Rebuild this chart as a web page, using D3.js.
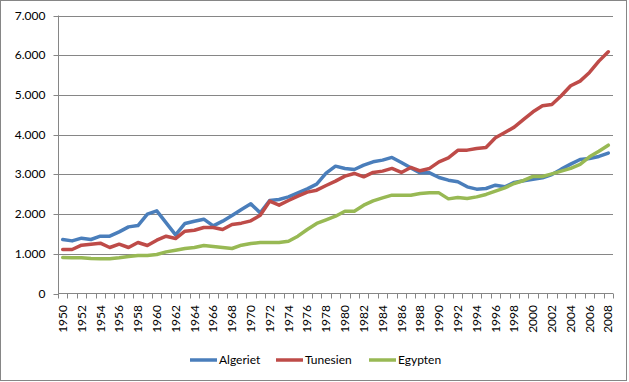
<!DOCTYPE html>
<html><head><meta charset="utf-8">
<script src="https://cdn.jsdelivr.net/npm/d3@7"></script>
<style>
html,body{margin:0;padding:0;background:#fff;}
svg{display:block;font-family:Lato, "Open Sans", sans-serif;}
</style></head>
<body>
<svg id="chart" width="629" height="382"></svg>
<script>
const years = d3.range(1950, 2009);
const seriesNames = ["Algeriet", "Tunesien", "Egypten"];
const seriesColors = ["#4A7EBB", "#BE4B48", "#98B954"];
const algeriet = [1360,1325,1393,1360,1443,1443,1552,1678,1712,1997,2081,1778,1476,1763,1821,1871,1703,1821,1964,2115,2257,2030,2342,2368,2434,2534,2635,2753,3030,3207,3149,3123,3232,3316,3358,3426,3300,3164,3038,3038,2922,2854,2812,2686,2627,2644,2728,2686,2796,2837,2879,2913,2997,3131,3257,3375,3400,3451,3534];
const tunesien = [1108,1108,1217,1242,1267,1158,1242,1158,1284,1209,1342,1443,1385,1569,1594,1662,1662,1612,1738,1771,1829,1972,2325,2224,2342,2451,2552,2602,2720,2829,2955,3023,2938,3048,3081,3149,3048,3174,3090,3149,3316,3416,3605,3610,3652,3678,3920,4055,4189,4383,4575,4726,4761,4978,5230,5348,5567,5851,6086];
const egypten = [907,900,900,880,875,875,900,932,957,957,982,1048,1090,1133,1160,1209,1184,1158,1133,1217,1259,1284,1284,1284,1317,1443,1612,1763,1855,1947,2073,2073,2224,2333,2408,2476,2476,2476,2519,2534,2534,2383,2418,2393,2433,2494,2577,2660,2770,2846,2947,2947,3013,3081,3149,3249,3441,3584,3735];
const yTicks = [0,1000,2000,3000,4000,5000,6000,7000];
const seriesValues = [algeriet, tunesien, egypten];

const svg = d3.select("#chart");
const L = 58, R = 613, T = 15.5, B = 293.5;

svg.append("rect").attr("x",0.5).attr("y",0.5).attr("width",626).attr("height",380)
  .attr("fill","#fff").attr("stroke","#868686").attr("stroke-width",1);

const x = d3.scaleBand().domain(years).range([L, R]).padding(0);
const y = d3.scaleLinear().domain([0,7000]).range([B, T]);
const fmt = d3.formatLocale({decimal:",", thousands:".", grouping:[3], currency:["",""]}).format(",d");

// gridlines
svg.append("g").selectAll("line").data(yTicks.filter(d=>d>0)).join("line")
  .attr("x1", L).attr("x2", R)
  .attr("y1", d=>Math.round(y(d))+0.5).attr("y2", d=>Math.round(y(d))+0.5)
  .attr("stroke","#868686").attr("stroke-width",1);

// y axis
const yAxis = svg.append("g").attr("transform",`translate(${L+0.5},0)`)
  .call(d3.axisLeft(y).tickValues(yTicks).tickSize(5).tickFormat(fmt));
yAxis.select(".domain").attr("stroke","#868686").attr("d",`M0,${T}V${B}`);
yAxis.selectAll(".tick line").attr("stroke","#868686");
yAxis.selectAll(".tick").attr("transform", d=>`translate(0,${Math.round(y(d))+0.5})`);
yAxis.selectAll(".tick text").attr("x",-13).attr("font-size","12px").attr("font-family","Lato").attr("fill","#000");

// x axis
const xg = svg.append("g");
xg.append("line").attr("x1",L).attr("x2",R).attr("y1",B).attr("y2",B).attr("stroke","#868686");
const bounds = years.map(d=>x(d)).concat([x(years[years.length-1]) + x.bandwidth()]);
xg.selectAll("line.tk").data(bounds).join("line").attr("class","tk")
  .attr("x1", d=>Math.round(d)+0.5).attr("x2", d=>Math.round(d)+0.5)
  .attr("y1", B).attr("y2", B+5).attr("stroke","#868686");
xg.selectAll("text").data(years.filter(d=>d%2===0)).join("text")
  .attr("transform", d=>`translate(${x(d)+x.bandwidth()/2},305) rotate(-90)`)
  .attr("text-anchor","end").attr("dy","0.35em")
  .attr("font-size","12px").attr("fill","#000").text(d=>d);

// lines
const line = d3.line().x((d,i)=>x(years[i])+x.bandwidth()/2).y(d=>y(d));
svg.append("g").selectAll("path").data(seriesValues).join("path")
  .attr("d", line).attr("fill","none")
  .attr("stroke",(d,i)=>seriesColors[i]).attr("stroke-width",3.5)
  .attr("stroke-linejoin","round").attr("stroke-linecap","round");

// legend
const legX = [190, 276, 369];
const lg = svg.append("g").selectAll("g").data(seriesNames).join("g")
  .attr("transform",(d,i)=>`translate(${legX[i]},360)`);
lg.append("line").attr("x1",0).attr("x2",27).attr("y1",0).attr("y2",0)
  .attr("stroke",(d,i)=>seriesColors[i]).attr("stroke-width",3.5);
lg.append("text").attr("x",29).attr("dy","0.35em").attr("font-size","12px").attr("fill","#000").text(d=>d);
</script>
</body></html>
